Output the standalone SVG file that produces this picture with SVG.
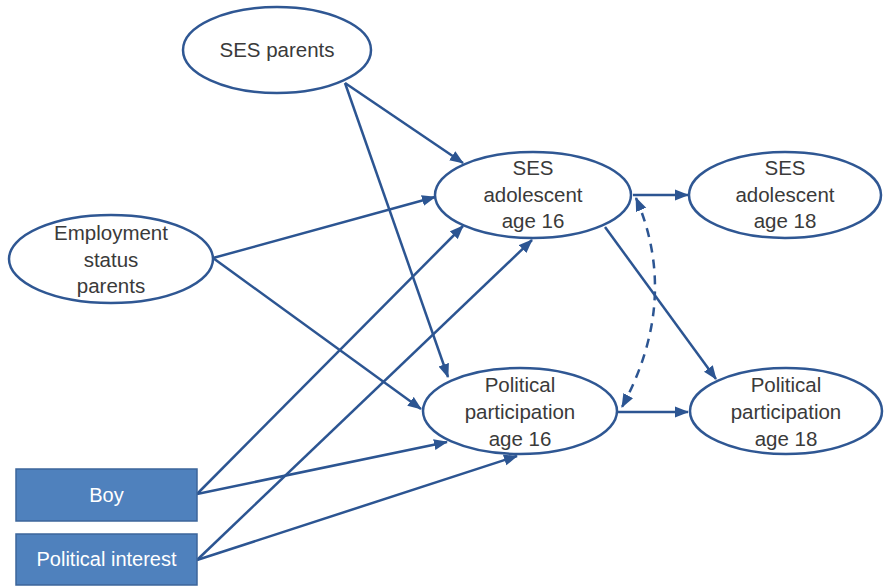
<svg xmlns="http://www.w3.org/2000/svg" width="884" height="587" viewBox="0 0 884 587">
<style>
.node ellipse{fill:#ffffff;stroke:#2f5793;stroke-width:2.5}
.node rect{fill:#4f81bd;stroke:#3c659a;stroke-width:1.5}
.lbl{font-family:"Liberation Sans",Arial,sans-serif;font-size:20.5px;fill:#3a3a3a;text-anchor:middle}
.wlbl{font-family:"Liberation Sans",Arial,sans-serif;font-size:20px;fill:#ffffff;text-anchor:middle}
.edge{fill:none;stroke:#2c5592;stroke-width:2.5;marker-end:url(#ah)}
.dash{fill:none;stroke:#2c5592;stroke-width:2.5;stroke-dasharray:9 7;marker-start:url(#ah);marker-end:url(#ah)}
</style>
<defs>
<marker id="ah" markerUnits="userSpaceOnUse" markerWidth="14" markerHeight="12" refX="13" refY="5.5" orient="auto-start-reverse" viewBox="0 0 14 11">
<path d="M0,0 L14,5.5 L0,11 Z" fill="#2c5592"/>
</marker>
</defs>
<rect width="884" height="587" fill="#ffffff"/>
<g id="connectors">
<line class="edge" x1="345" y1="83" x2="463" y2="163"/>
<line class="edge" x1="345" y1="83" x2="448" y2="377"/>
<line class="edge" x1="213" y1="258" x2="435" y2="197"/>
<line class="edge" x1="213" y1="258" x2="421" y2="409"/>
<line class="edge" x1="197" y1="494" x2="463" y2="226"/>
<line class="edge" x1="197" y1="494" x2="447" y2="442"/>
<line class="edge" x1="197" y1="560" x2="532" y2="240"/>
<line class="edge" x1="197" y1="560" x2="517" y2="456"/>
<line class="edge" x1="633" y1="195" x2="688" y2="195"/>
<line class="edge" x1="605" y1="227" x2="716" y2="379"/>
<line class="edge" x1="618" y1="412" x2="688" y2="412"/>
<path class="dash" d="M636,198 Q680,300 622,407"/>
</g>
<g id="ses-parents" class="node">
<ellipse cx="277" cy="50" rx="94" ry="43"/>
<text class="lbl" x="277" y="57">SES parents</text>
</g>
<g id="employment-status-parents" class="node">
<ellipse cx="111" cy="259" rx="102" ry="44"/>
<text class="lbl" x="111" y="240">Employment</text>
<text class="lbl" x="111" y="267">status</text>
<text class="lbl" x="111" y="293">parents</text>
</g>
<g id="ses-adolescent-16" class="node">
<ellipse cx="533" cy="195" rx="98" ry="43"/>
<text class="lbl" x="533" y="175">SES</text>
<text class="lbl" x="533" y="202">adolescent</text>
<text class="lbl" x="533" y="228">age 16</text>
</g>
<g id="ses-adolescent-18" class="node">
<ellipse cx="785" cy="195" rx="96" ry="43"/>
<text class="lbl" x="785" y="175">SES</text>
<text class="lbl" x="785" y="202">adolescent</text>
<text class="lbl" x="785" y="228">age 18</text>
</g>
<g id="political-participation-16" class="node">
<ellipse cx="520" cy="411" rx="97" ry="43"/>
<text class="lbl" x="520" y="392">Political</text>
<text class="lbl" x="520" y="419">participation</text>
<text class="lbl" x="520" y="446">age 16</text>
</g>
<g id="political-participation-18" class="node">
<ellipse cx="786" cy="411" rx="96" ry="43"/>
<text class="lbl" x="786" y="392">Political</text>
<text class="lbl" x="786" y="419">participation</text>
<text class="lbl" x="786" y="446">age 18</text>
</g>
<g id="boy" class="node">
<rect x="16" y="469" width="181" height="52"/>
<text class="wlbl" x="106.5" y="502">Boy</text>
</g>
<g id="political-interest" class="node">
<rect x="16" y="534" width="181" height="51"/>
<text class="wlbl" x="106.5" y="566">Political interest</text>
</g>
</svg>
